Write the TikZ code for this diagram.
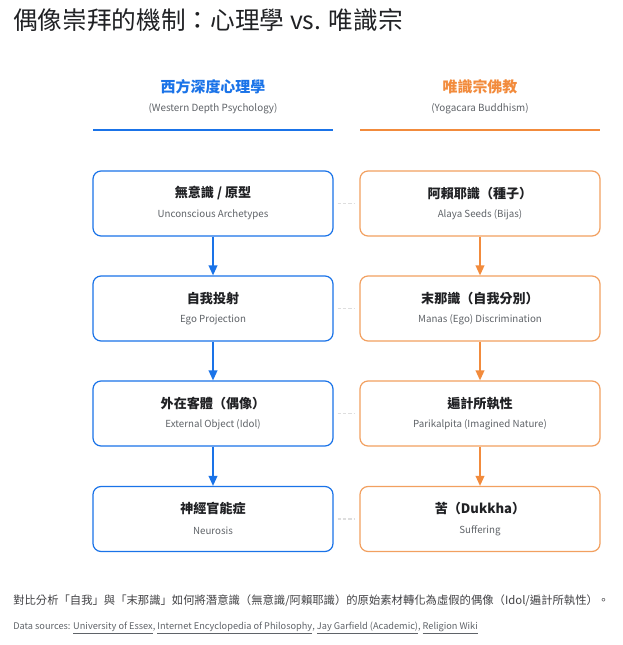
\documentclass[tikz,border=0pt]{standalone}
\usepackage{fontspec}
\setmainfont{Noto Sans CJK TC}
\usetikzlibrary{arrows.meta}
\definecolor{gblue}{HTML}{1A73E8}
\definecolor{gorange}{HTML}{F28B3C}
\definecolor{boxorange}{HTML}{F2A060}
\definecolor{ink}{HTML}{202124}
\definecolor{subgray}{HTML}{5F6368}
\tikzset{
  box/.style={draw, rounded corners=6pt, line width=0.9pt, minimum width=180pt, minimum height=48.75pt, inner sep=0pt, fill=white},
  lbox/.style={box, draw=gblue},
  rbox/.style={box, draw=boxorange},
  btitle/.style={font=\fontsize{9.8}{11}\selectfont\bfseries, text=ink, inner sep=0pt},
  bsub/.style={font=\fontsize{7.3}{9}\selectfont, text=subgray, inner sep=0pt},
  larrow/.style={draw=gblue, line width=1.2pt, -{Triangle[length=7.5pt,width=6.5pt]}},
  rarrow/.style={draw=gorange, line width=1.2pt, -{Triangle[length=7.5pt,width=6.5pt]}},
  link/.style={draw=black!13, line width=0.9pt, dash pattern=on 2.5pt off 1.5pt},
  head/.style={font=\fontsize{11.2}{13}\selectfont\bfseries, inner sep=0pt},
  hsub/.style={font=\fontsize{7.4}{9}\selectfont, text=subgray, inner sep=0pt},
}
\begin{document}
\begin{tikzpicture}[x=0.75pt,y=-0.75pt]
\useasboundingbox[fill=white] (0,0) rectangle (622,645);
% title
\node[anchor=west, inner sep=0pt, font=\fontsize{18.5}{21}\selectfont, text=ink] (title) at (13,20) {偶像崇拜的機制：心理學 vs. 唯識宗};
% headers
\node[head, text=gblue] (hl) at (213,87) {西方深度心理學};
\node[hsub] (hls) at (213,109) {(Western Depth Psychology)};
\node[head, text=gorange] (hr) at (480,87) {唯識宗佛教};
\node[hsub] (hrs) at (480,109) {(Yogacara Buddhism)};
\coordinate (hl1) at (93,130); \coordinate (hl2) at (333,130);
\coordinate (hr1) at (360,130); \coordinate (hr2) at (600,130);
\draw[gblue, line width=0.9pt] (hl1) -- (hl2);
\draw[gorange, line width=0.9pt] (hr1) -- (hr2);
% boxes
\foreach \n/\y in {1/203.5, 2/308.5, 3/413.5, 4/519}{
  \node[lbox] (L\n) at (213,\y) {};
  \node[rbox] (R\n) at (480,\y) {};
}
% texts
\node[btitle] (L1t) at ([yshift=7.6pt]L1.center) {無意識 / 原型};
\node[bsub] (L1s) at ([yshift=-8.6pt]L1.center) {Unconscious Archetypes};
\node[btitle] (L2t) at ([yshift=7.6pt]L2.center) {自我投射};
\node[bsub] (L2s) at ([yshift=-8.6pt]L2.center) {Ego Projection};
\node[btitle] (L3t) at ([yshift=7.6pt]L3.center) {外在客體（偶像）};
\node[bsub] (L3s) at ([yshift=-8.6pt]L3.center) {External Object (Idol)};
\node[btitle] (L4t) at ([yshift=7.6pt]L4.center) {神經官能症};
\node[bsub] (L4s) at ([yshift=-8.6pt]L4.center) {Neurosis};
\node[btitle] (R1t) at ([yshift=7.6pt]R1.center) {阿賴耶識（種子）};
\node[bsub] (R1s) at ([yshift=-8.6pt]R1.center) {Alaya Seeds (Bijas)};
\node[btitle] (R2t) at ([yshift=7.6pt]R2.center) {末那識（自我分別）};
\node[bsub] (R2s) at ([yshift=-8.6pt]R2.center) {Manas (Ego) Discrimination};
\node[btitle] (R3t) at ([yshift=7.6pt]R3.center) {遍計所執性};
\node[bsub] (R3s) at ([yshift=-8.6pt]R3.center) {Parikalpita (Imagined Nature)};
\node[btitle] (R4t) at ([yshift=7.6pt]R4.center) {苦（Dukkha）};
\node[bsub] (R4s) at ([yshift=-8.6pt]R4.center) {Suffering};
% arrows
\draw[larrow] (L1) -- (L2);
\draw[larrow] (L2) -- (L3);
\draw[larrow] (L3) -- (L4);
\draw[rarrow] (R1) -- (R2);
\draw[rarrow] (R2) -- (R3);
\draw[rarrow] (R3) -- (R4);
% faint links
\foreach \n in {1,2,3,4}{
  \draw[link] ([xshift=3pt]L\n.east) -- ([xshift=-3pt]R\n.west);
}
% footer
\node[anchor=west, inner sep=0pt, font=\fontsize{8.5}{10}\selectfont, text=ink!85] (cap) at (13,601) {對比分析「自我」與「末那識」如何將潛意識（無意識/阿賴耶識）的原始素材轉化為虛假的偶像（Idol/遍計所執性）。};
\node[anchor=west, inner sep=0pt, font=\fontsize{6.9}{8}\selectfont, text=subgray] (src) at (13,628) {Data sources: \underline{University of Essex}, \underline{Internet Encyclopedia of Philosophy}, \underline{Jay Garfield (Academic)}, \underline{Religion Wiki}};
\end{tikzpicture}
\end{document}
